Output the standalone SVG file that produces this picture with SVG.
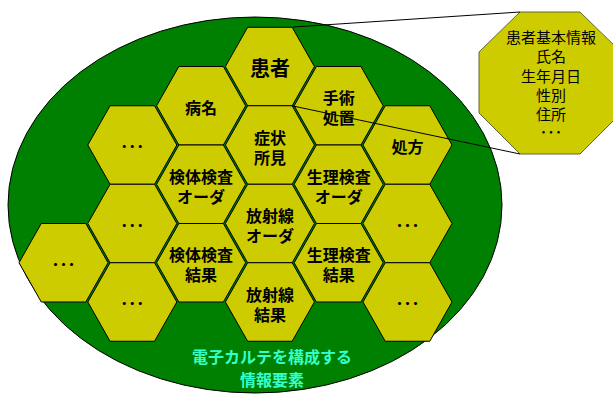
<svg xmlns="http://www.w3.org/2000/svg" xmlns:xlink="http://www.w3.org/1999/xlink" width="613" height="397" viewBox="0 0 613 397">
<defs>
<style>
.hex{fill:#cccc00;stroke:#000;stroke-width:1}
.t{font-family:"Noto Sans CJK JP","Liberation Sans",sans-serif;font-weight:bold;font-size:16px;fill:#000;text-anchor:middle}
.big{font-size:20px}
.oct{font-family:"Noto Sans CJK JP","Liberation Sans",sans-serif;font-size:15px;fill:#000;text-anchor:middle}
.cap{font-family:"Noto Sans CJK JP","Liberation Sans",sans-serif;font-weight:bold;font-size:16px;fill:#33ffcc;text-anchor:middle}
.ln{stroke:#000;stroke-width:1;fill:none}
</style>
<polygon id="hx" points="-44.5,0 -22.25,-39.25 22.25,-39.25 44.5,0 22.25,39.25 -22.25,39.25"/>
</defs>
<rect width="613" height="397" fill="#fff"/>
<g id="ellipse">
<ellipse cx="255" cy="205" rx="247" ry="188" fill="#008000" stroke="#000" stroke-width="1"/>
</g>
<g id="n-kanja" transform="translate(269.9,66.5)"><use href="#hx" class="hex"/><text class="t big" y="9.5">患者</text></g>
<g id="n-byomei" transform="translate(201.1,105.75)"><use href="#hx" class="hex"/><text class="t" y="8">病名</text></g>
<g id="n-shujutsu" transform="translate(338.7,105.75)"><use href="#hx" class="hex"/><text class="t" y="-1.5">手術</text><text class="t" y="18.5">処置</text></g>
<g id="n-dots1" transform="translate(132.3,145)"><use href="#hx" class="hex"/><text class="t" y="7">･･･</text></g>
<g id="n-shojo" transform="translate(269.9,145)"><use href="#hx" class="hex"/><text class="t" y="-1.5">症状</text><text class="t" y="18.5">所見</text></g>
<g id="n-shoho" transform="translate(407.5,145)"><use href="#hx" class="hex"/><text class="t" y="8">処方</text></g>
<g id="n-kentai-order" transform="translate(201.1,184.25)"><use href="#hx" class="hex"/><text class="t" y="-1.5">検体検査</text><text class="t" y="18.5">オーダ</text></g>
<g id="n-seiri-order" transform="translate(338.7,184.25)"><use href="#hx" class="hex"/><text class="t" y="-1.5">生理検査</text><text class="t" y="18.5">オーダ</text></g>
<g id="n-dots2" transform="translate(132.3,223.5)"><use href="#hx" class="hex"/><text class="t" y="7">･･･</text></g>
<g id="n-hoshasen-order" transform="translate(269.9,223.5)"><use href="#hx" class="hex"/><text class="t" y="-1.5">放射線</text><text class="t" y="18.5">オーダ</text></g>
<g id="n-dots3" transform="translate(407.5,223.5)"><use href="#hx" class="hex"/><text class="t" y="7">･･･</text></g>
<g id="n-dots4" transform="translate(63.5,262.75)"><use href="#hx" class="hex"/><text class="t" y="7">･･･</text></g>
<g id="n-kentai-kekka" transform="translate(201.1,262.75)"><use href="#hx" class="hex"/><text class="t" y="-1.5">検体検査</text><text class="t" y="18.5">結果</text></g>
<g id="n-seiri-kekka" transform="translate(338.7,262.75)"><use href="#hx" class="hex"/><text class="t" y="-1.5">生理検査</text><text class="t" y="18.5">結果</text></g>
<g id="n-dots5" transform="translate(132.3,302)"><use href="#hx" class="hex"/><text class="t" y="7">･･･</text></g>
<g id="n-hoshasen-kekka" transform="translate(269.9,302)"><use href="#hx" class="hex"/><text class="t" y="-1.5">放射線</text><text class="t" y="18.5">結果</text></g>
<g id="n-dots6" transform="translate(407.5,302)"><use href="#hx" class="hex"/><text class="t" y="7">･･･</text></g>
<g id="caption">
<text class="cap" x="272" y="363">電子カルテを構成する</text>
<text class="cap" x="272" y="386">情報要素</text>
</g>
<g id="n-kihon">
<polygon points="520,12 580,12 621,52 621,113 580,154 520,154 479,113 479,52" fill="#cccc00" stroke="#666633" stroke-width="1"/>
<text class="oct" x="551" y="43">患者基本情報</text>
<text class="oct" x="551" y="62">氏名</text>
<text class="oct" x="551" y="82">生年月日</text>
<text class="oct" x="551" y="101">性別</text>
<text class="oct" x="551" y="120">住所</text>
<text class="oct" x="551" y="138">･･･</text>
</g>
<g id="connectors">
<line class="ln" x1="293" y1="27" x2="520" y2="12"/>
<line class="ln" x1="293" y1="106" x2="520" y2="154"/>
</g>
</svg>
